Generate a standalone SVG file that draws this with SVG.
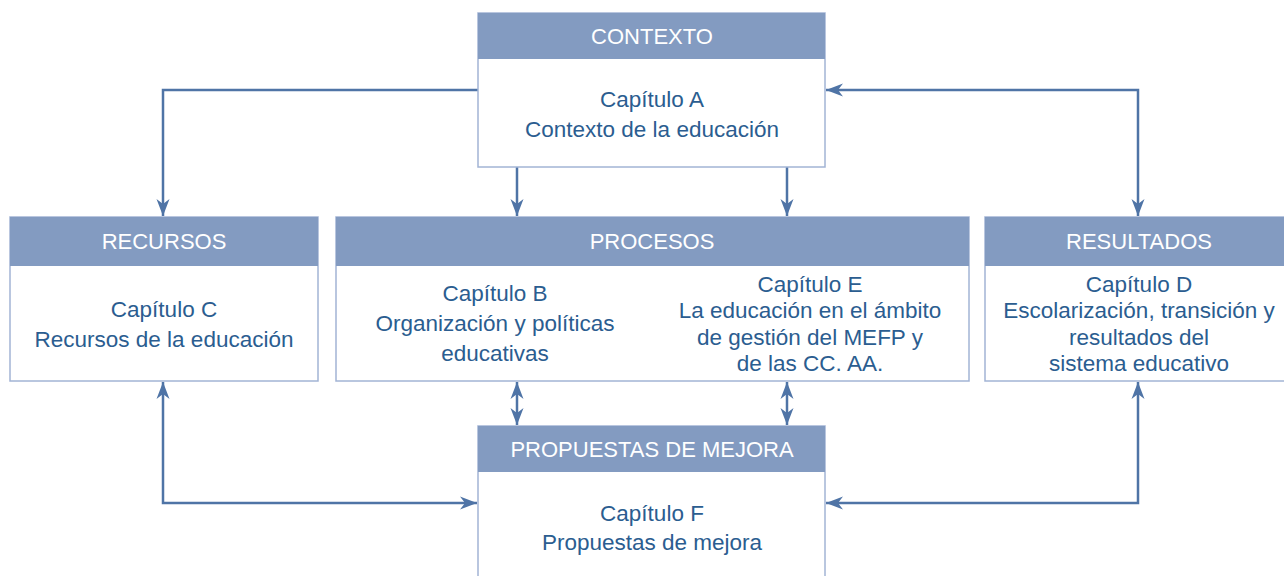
<svg xmlns="http://www.w3.org/2000/svg" width="1284" height="576" viewBox="0 0 1284 576">
<style>
.box{fill:#ffffff;stroke:#a2b4d5;stroke-width:1.5}
.hd{fill:#839bc1}
.ht{font-family:"Liberation Sans",Arial,sans-serif;font-size:22px;fill:#ffffff;text-anchor:middle}
.bt{font-family:"Liberation Sans",Arial,sans-serif;font-size:22.5px;fill:#2b5d90;text-anchor:middle}
.cn{fill:none;stroke:#4f74a6;stroke-width:2.5}
</style>
<defs>
<marker id="ah" markerUnits="userSpaceOnUse" markerWidth="20" markerHeight="16" viewBox="-18 -8 20 16" refX="0" refY="0" orient="auto-start-reverse">
<path d="M0,0 L-17,-6.5 L-12,0 L-17,6.5 Z" fill="#4f74a6"/>
</marker>
</defs>
<rect width="1284" height="576" fill="#ffffff"/>
<g id="connectors">
<path class="cn" d="M478,90 H163 V216" marker-end="url(#ah)"/>
<path class="cn" d="M517,167 V216" marker-end="url(#ah)"/>
<path class="cn" d="M787,167 V216" marker-end="url(#ah)"/>
<path class="cn" d="M826,90 H1138 V216" marker-start="url(#ah)" marker-end="url(#ah)"/>
<path class="cn" d="M163,382 V503 H477" marker-start="url(#ah)" marker-end="url(#ah)"/>
<path class="cn" d="M1138,382 V503 H826" marker-start="url(#ah)" marker-end="url(#ah)"/>
<path class="cn" d="M517,382 V425" marker-start="url(#ah)" marker-end="url(#ah)"/>
<path class="cn" d="M787,382 V425" marker-start="url(#ah)" marker-end="url(#ah)"/>
</g>
<g id="contexto">
<rect class="box" x="478" y="13" width="347" height="154"/>
<rect class="hd" x="478" y="13" width="347" height="46"/>
<text class="ht" x="652" y="44">CONTEXTO</text>
<text class="bt" x="652" y="107">Capítulo A</text>
<text class="bt" x="652" y="137">Contexto de la educación</text>
</g>
<g id="recursos">
<rect class="box" x="10" y="217" width="308" height="164"/>
<rect class="hd" x="10" y="217" width="308" height="49"/>
<text class="ht" x="164" y="249">RECURSOS</text>
<text class="bt" x="164" y="317">Capítulo C</text>
<text class="bt" x="164" y="347">Recursos de la educación</text>
</g>
<g id="procesos">
<rect class="box" x="336" y="217" width="633" height="164"/>
<rect class="hd" x="336" y="217" width="633" height="49"/>
<text class="ht" x="652" y="249">PROCESOS</text>
<text class="bt" x="495" y="301">Capítulo B</text>
<text class="bt" x="495" y="331">Organización y políticas</text>
<text class="bt" x="495" y="361">educativas</text>
<text class="bt" x="810" y="292">Capítulo E</text>
<text class="bt" x="810" y="318">La educación en el ámbito</text>
<text class="bt" x="810" y="345">de gestión del MEFP y</text>
<text class="bt" x="810" y="371">de las CC. AA.</text>
</g>
<g id="resultados">
<rect class="box" x="985" y="217" width="310" height="164"/>
<rect class="hd" x="985" y="217" width="310" height="49"/>
<text class="ht" x="1139" y="249">RESULTADOS</text>
<text class="bt" x="1139" y="292">Capítulo D</text>
<text class="bt" x="1139" y="318">Escolarización, transición y</text>
<text class="bt" x="1139" y="345">resultados del</text>
<text class="bt" x="1139" y="371">sistema educativo</text>
</g>
<g id="propuestas">
<rect class="box" x="478" y="426" width="347" height="165"/>
<rect class="hd" x="478" y="426" width="347" height="46"/>
<text class="ht" x="652" y="457">PROPUESTAS DE MEJORA</text>
<text class="bt" x="652" y="521">Capítulo F</text>
<text class="bt" x="652" y="550">Propuestas de mejora</text>
</g>
</svg>
